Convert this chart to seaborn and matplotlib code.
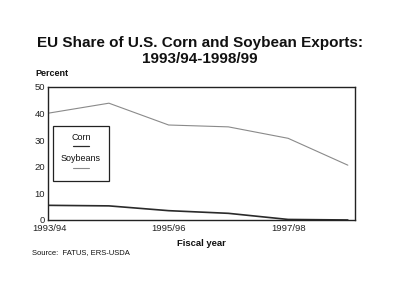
import matplotlib
matplotlib.use("Agg")
import matplotlib.pyplot as plt
import seaborn as sns
import pandas as pd
from matplotlib.patches import Rectangle

years = ["1993/94", "1994/95", "1995/96", "1996/97", "1997/98", "1998/99"]
corn = [5.5, 5.3, 3.5, 2.5, 0.2, 0.0]
soybeans = [40.2, 43.9, 35.7, 35.0, 30.7, 20.6]
tick_labels = ["1993/94", "", "1995/96", "", "1997/98", ""]

sns.set_theme(style="white")
plt.rcParams['font.family'] = ['Liberation Sans', 'DejaVu Sans']

df = pd.DataFrame({"idx": list(range(len(years))) * 2,
                   "value": corn + soybeans,
                   "series": ["Corn"] * len(years) + ["Soybeans"] * len(years)})

fig = plt.figure(figsize=(4.0, 3.03), dpi=100)
ax = fig.add_axes([0.12, 0.274, 0.7675, 0.439])

sns.lineplot(data=df, x="idx", y="value", hue="series",
             palette={"Corn": "#2a2a2a", "Soybeans": "#8a8a8a"},
             ax=ax, legend=False, linewidth=1.0)
ax.lines[0].set_linewidth(1.2)
ax.lines[1].set_linewidth(0.8)

ax.set_xlim(-0.02, 5.12)
ax.set_ylim(0, 50)
ax.set_yticks([0, 10, 20, 30, 40, 50])
ax.set_xticks(range(len(years)))
ax.set_xticklabels(tick_labels)
ax.tick_params(axis="both", direction="in", length=2.5, width=0.7,
               labelsize=6.8, colors="#222222")
ax.tick_params(axis="x", pad=3)
ax.tick_params(axis="y", pad=2)
for s in ax.spines.values():
    s.set_color("#222222")
    s.set_linewidth(1.0)
ax.set_xlabel("Fiscal year", fontsize=6.8, fontweight="bold", labelpad=4, color="#111111")
ax.set_ylabel("")

# legend box drawn manually (text above line samples)
ax.add_patch(Rectangle((0.016, 0.29), 0.182, 0.42, transform=ax.transAxes,
                       fill=False, edgecolor="#222222", linewidth=0.9))
ax.text(0.107, 0.62, "Corn", transform=ax.transAxes, ha="center", va="center",
        fontsize=6.5, color="#111111")
ax.plot([0.08, 0.134], [0.555, 0.555], transform=ax.transAxes, color="#2a2a2a", lw=0.9)
ax.text(0.107, 0.46, "Soybeans", transform=ax.transAxes, ha="center", va="center",
        fontsize=6.5, color="#111111")
ax.plot([0.08, 0.134], [0.39, 0.39], transform=ax.transAxes, color="#8a8a8a", lw=0.8)

fig.text(0.5, 0.832, "EU Share of U.S. Corn and Soybean Exports:\n1993/94-1998/99",
         ha="center", va="center", fontsize=11, fontweight="bold",
         color="#111111", linespacing=1.15)
fig.text(0.088, 0.758, "Percent", fontsize=6.5, fontweight="bold", color="#111111",
         va="center")
fig.text(0.08, 0.165, "Source:  FATUS, ERS-USDA", fontsize=5.5, color="#111111", va="center")

fig.savefig("out.png", dpi=100, facecolor="white")
